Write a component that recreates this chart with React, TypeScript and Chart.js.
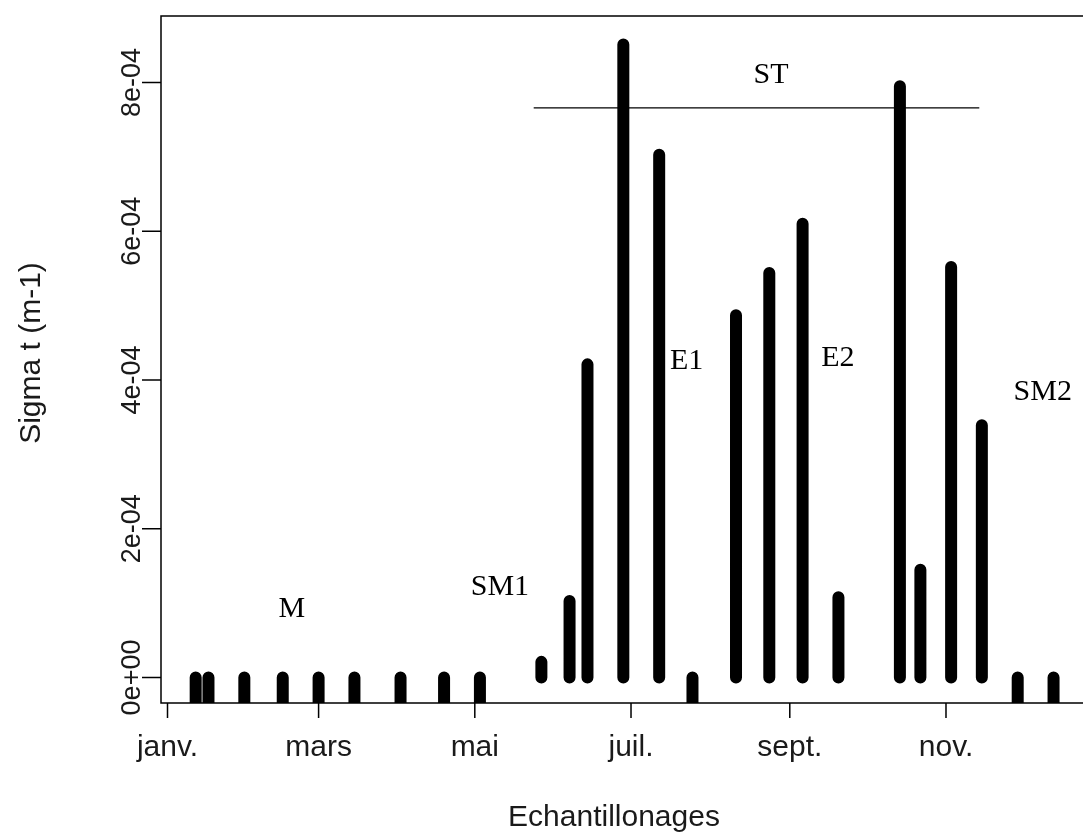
import React, { useEffect, useRef } from "react";
import { Chart, registerables } from "chart.js";

Chart.register(...registerables);

// ---- data (day of year) ----
const MONTH_TICKS = [0, 59, 120, 181, 243, 304];
const MONTH_LABELS = ["janv.", "mars", "mai", "juil.", "sept.", "nov."];
const Y_TICKS = [0, 2e-4, 4e-4, 6e-4, 8e-4];
const Y_TICK_LABELS = ["0e+00", "2e-04", "4e-04", "6e-04", "8e-04"];

const SAMPLE_DAYS = [
  11, 16, 30, 45, 59, 73, 91, 108, 122, 146, 157, 164, 178, 192, 205, 222, 235,
  248, 262, 286, 294, 306, 318, 332, 346,
];
const SIGMA_T = [
  0, 0, 0, 0, 0, 0, 0, 0, 0, 2.1e-5, 1.03e-4, 4.21e-4, 8.51e-4, 7.03e-4, 0,
  4.87e-4, 5.44e-4, 6.1e-4, 1.08e-4, 7.95e-4, 1.45e-4, 5.52e-4, 3.39e-4, 0, 0,
];

const ST_LINE_DAYS = [143, 317];
const ST_LINE_VALUE = 7.66e-4;

const ZONE_LABELS = ["M", "SM1", "E1", "E2", "ST", "SM2"];
const ZONE_DAYS = [48.6, 129.8, 202.7, 261.8, 235.7, 341.8];
const ZONE_VALUES = [0.92e-4, 1.22e-4, 4.25e-4, 4.3e-4, 8.1e-4, 3.84e-4];

const X_MIN = -2.54;
const X_MAX = 357.5;
const Y_MIN = -3.43e-5;
const Y_MAX = 8.894e-4;

const X_TITLE = "Echantillonages";
const Y_TITLE = "Sigma t (m-1)";

const SANS = '"Liberation Sans", Arial, sans-serif';
const SERIF = '"Liberation Serif", "Times New Roman", serif';

const rAxesPlugin = {
  id: "rAxes",
  afterDraw(chart: any) {
    const { ctx, chartArea: a, scales } = chart;
    const x = scales.x;
    const y = scales.y;
    ctx.save();
    ctx.strokeStyle = "#000";
    ctx.lineWidth = 1.5;
    ctx.beginPath();
    ctx.moveTo(a.right, a.top);
    ctx.lineTo(a.left, a.top);
    ctx.lineTo(a.left, a.bottom);
    ctx.lineTo(a.right, a.bottom);
    MONTH_TICKS.forEach((d) => {
      const px = x.getPixelForValue(d);
      ctx.moveTo(px, a.bottom);
      ctx.lineTo(px, a.bottom + 15);
    });
    Y_TICKS.forEach((v) => {
      const py = y.getPixelForValue(v);
      ctx.moveTo(a.left, py);
      ctx.lineTo(a.left - 19, py);
    });
    ctx.stroke();

    ctx.fillStyle = "#1a1a1a";
    // x tick labels
    ctx.font = `30px ${SANS}`;
    ctx.textAlign = "center";
    ctx.textBaseline = "alphabetic";
    MONTH_TICKS.forEach((d, i) => {
      ctx.fillText(MONTH_LABELS[i], x.getPixelForValue(d), a.bottom + 53);
    });
    // x title
    ctx.fillText(X_TITLE, 614, a.bottom + 123);

    // y tick labels (rotated)
    ctx.font = `27px ${SANS}`;
    Y_TICKS.forEach((v, i) => {
      ctx.save();
      ctx.translate(a.left - 21, y.getPixelForValue(v));
      ctx.rotate(-Math.PI / 2);
      ctx.fillText(Y_TICK_LABELS[i], 0, 0);
      ctx.restore();
    });
    // y title
    ctx.font = `30px ${SANS}`;
    ctx.save();
    ctx.translate(40, 353);
    ctx.rotate(-Math.PI / 2);
    ctx.fillText(Y_TITLE, 0, 0);
    ctx.restore();

    // zone annotations
    ctx.fillStyle = "#000";
    ctx.font = `30px ${SERIF}`;
    ctx.textBaseline = "middle";
    ZONE_LABELS.forEach((t, i) => {
      ctx.fillText(t, x.getPixelForValue(ZONE_DAYS[i]), y.getPixelForValue(ZONE_VALUES[i]));
    });
    ctx.restore();
  },
};

export default function App() {
  const ref = useRef<HTMLCanvasElement | null>(null);
  useEffect(() => {
    if (!ref.current) return;
    const barPoints: any[] = [];
    SAMPLE_DAYS.forEach((d, i) => {
      const v = SIGMA_T[i];
      barPoints.push({ x: d, y: v === 0 ? Y_MIN : 0 });
      barPoints.push({ x: d, y: v });
      barPoints.push({ x: d, y: null });
    });
    const chart = new Chart(ref.current, {
      type: "line",
      data: {
        datasets: [
          {
            label: "Sigma t",
            data: barPoints,
            borderColor: "#000",
            borderWidth: 12,
            borderCapStyle: "round",
            pointRadius: 0,
            spanGaps: false,
            tension: 0,
            clip: 0,
          } as any,
          {
            label: "ST",
            data: ST_LINE_DAYS.map((d) => ({ x: d, y: ST_LINE_VALUE })),
            borderColor: "#000",
            borderWidth: 1.2,
            pointRadius: 0,
            tension: 0,
          } as any,
        ],
      },
      options: {
        responsive: false,
        animation: false,
        layout: { padding: { left: 161, top: 16, right: 0, bottom: 136 } },
        plugins: { legend: { display: false }, tooltip: { enabled: false } },
        scales: {
          x: { type: "linear", min: X_MIN, max: X_MAX, display: false },
          y: { type: "linear", min: Y_MIN, max: Y_MAX, display: false },
        },
      },
      plugins: [rAxesPlugin],
    });
    return () => chart.destroy();
  }, []);
  return (
    <div style={{ position: "fixed", left: 0, top: 0, width: 1083, height: 839, background: "#fff" }}>
      <canvas ref={ref} width={1083} height={839} style={{ display: "block" }} />
    </div>
  );
}
